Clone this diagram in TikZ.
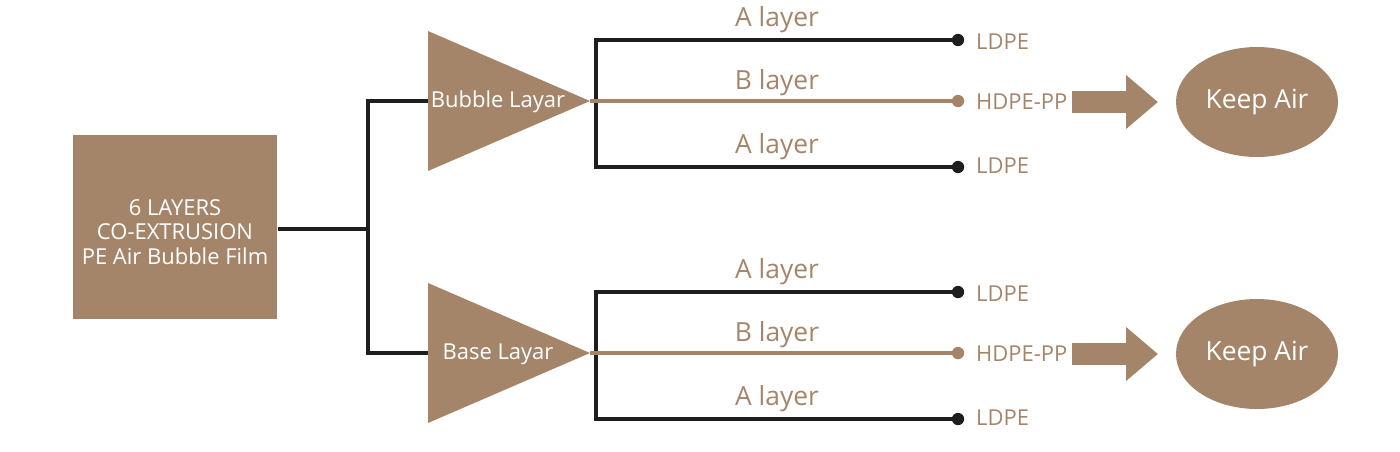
\documentclass[tikz,border=0pt]{standalone}
\usepackage{fontspec}
\setmainfont{Open Sans}
\usepackage{tikz}
\usetikzlibrary{positioning,shapes.geometric,arrows.meta}
\definecolor{tan}{HTML}{A5856A}
\definecolor{ink}{HTML}{1E1E1E}
\tikzset{
  blk/.style={line width=2.2pt, draw=ink},
  tanl/.style={line width=2.2pt, draw=tan},
  lay/.style={text=tan, font=\fontsize{15}{17}\selectfont},
  mat/.style={text=tan, anchor=west, font=\fontsize{12.5}{15}\selectfont},
  dot/.style={circle, fill=#1, inner sep=0pt, minimum size=7pt},
  tritxt/.style={text=white, font=\fontsize{12.5}{15}\selectfont},
  big/.style={-{Triangle[length=0.64cm,width=1.04cm]}, line width=0.44cm, draw=tan},
  keep/.style={ellipse, fill=tan, text=white, minimum width=3.2cm, minimum height=2.2cm,
    font=\fontsize{15}{17}\selectfont}
}
\begin{document}
\begin{tikzpicture}[x=0.02cm,y=-0.02cm]
  \useasboundingbox (0,0) rectangle (1400,451);
  % main box
  \node[fill=tan, minimum width=4.1cm, minimum height=3.7cm] (film) at (175,227) {};
  \node[text=white, align=center, font=\fontsize{12.5}{14}\selectfont] at (175,232)
    {6 LAYERS\\CO-EXTRUSION\\PE Air Bubble Film};
  \coordinate (fork) at (368,229);
  \draw[blk] (film.east |- fork) -- (fork);
  % two branches
  \foreach \name/\txt/\y in {bub/Bubble Layar/0, base/Base Layar/252} {
    \coordinate (\name in) at (428,101+\y);
    \coordinate (\name) at (590,101+\y);
    \fill[tan] (428,31+\y) -- (\name) -- (428,171+\y) -- cycle;
    \node[tritxt] at (498,102+\y) {\txt};
    \draw[blk] (fork) |- (\name in);
    \coordinate (\name v) at (596,101+\y);
    \node[dot=ink] (\name a) at (958,40+\y) {};
    \node[dot=tan] (\name b) at (958,101+\y) {};
    \node[dot=ink] (\name c) at (958,167+\y) {};
    \draw[blk] (\name a) -| (\name v) |- (\name c);
    \draw[tanl] (\name) -- (\name b);
    \node[lay] at (777,20+\y) {A layer};
    \node[lay] at (777,83+\y) {B layer};
    \node[lay] at (777,147+\y) {A layer};
    \node[mat] (\name la) at (970,42+\y) {LDPE};
    \node[mat] (\name hp) at (970,102+\y) {HDPE-PP};
    \node[mat] (\name lc) at (970,166+\y) {LDPE};
    \node[keep] (\name k) at (1257,102+\y) {Keep Air};
    \draw[big] (1072,102+\y) -- (1158,102+\y);
  }
\end{tikzpicture}
\end{document}
